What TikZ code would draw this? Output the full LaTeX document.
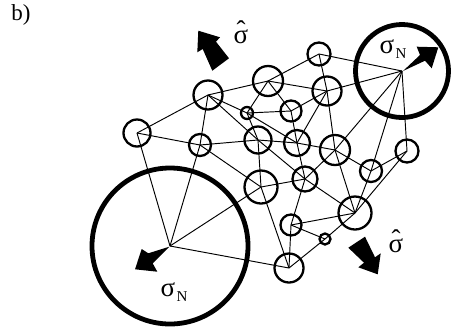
\documentclass[tikz,border=0pt]{standalone}
\usepackage{fontspec}
\setmainfont{Liberation Serif}
\newcommand{\sighat}{\leavevmode\ooalign{σ\cr\hidewidth\raisebox{0.13em}{\char"02C6}\hidewidth\cr}}
\tikzset{
 nd/.style={circle,draw,line width=2.3pt,inner sep=0pt,outer sep=0pt,minimum size=#1},
 bign/.style={circle,draw,line width=4.8pt,inner sep=0pt,outer sep=0pt,minimum size=#1},
 lnk/.style={line width=0.95pt},
 blk/.style={fill=black,draw=none},
 lab/.style={inner sep=0pt,font=\fontsize{23}{23}\selectfont},
 sig/.style={inner sep=0pt,font=\fontsize{27}{27}\selectfont},
 sub/.style={inner sep=0pt,font=\fontsize{15}{15}\selectfont},
}
\begin{document}
\begin{tikzpicture}[x=1pt,y=-1pt]
\useasboundingbox (0,0) rectangle (454,330);
\node[nd=27] (A) at (137,133) {};
\node[nd=29] (B) at (208,95) {};
\node[nd=30] (C) at (268,81) {};
\node[nd=12] (D) at (247,113) {};
\node[nd=21] (E) at (291,111) {};
\node[nd=22] (F) at (200,145) {};
\node[nd=27] (G) at (258,140) {};
\node[nd=26] (H) at (297,143) {};
\node[nd=23] (I) at (319,54) {};
\node[nd=29] (J) at (327,91) {};
\node[bign=93] (K) at (402,71) {};
\node[nd=30] (L) at (335,150) {};
\node[nd=23] (M) at (407,151) {};
\node[nd=22] (N) at (371,171) {};
\node[nd=25] (O) at (305,179) {};
\node[nd=33] (P) at (261,187) {};
\node[nd=33] (Q) at (355,213) {};
\node[nd=21] (R) at (291,225) {};
\node[nd=11] (S) at (325,239) {};
\node[nd=29] (T) at (289,268) {};
\node[bign=156] (U) at (170,246) {};
\foreach \a/\b in {A/B,A/F,A/U,B/C,B/D,B/F,B/G,C/D,C/E,C/I,C/J,D/E,D/G,D/H,E/J,E/H,F/G,F/U,F/P,G/H,G/P,G/O,H/J,H/L,H/O,I/J,I/K,J/K,J/L,K/L,K/N,K/M,L/N,L/O,L/Q,M/N,M/Q,N/Q,O/P,O/Q,O/R,P/T,P/U,Q/R,Q/S,R/S,R/T,S/T,T/U}
  \draw[lnk] (\a.center) -- (\b.center);
\fill[blk] (198.3,30.7) -- (220,37.3) -- (216,41.7) -- (229,58.3) -- (212.3,70.7) -- (202.7,49) -- (197.3,52.3) -- cycle;
\fill[blk] (377.7,274.3) -- (358.3,267.3) -- (364,262.7) -- (348.3,247.7) -- (365,236.7) -- (375,257.3) -- (380.7,253.3) -- cycle;
\fill[blk] (438.3,47.3) -- (431.7,68.3) -- (425,60.7) -- (403,71) -- (420,55) -- (416.7,46.7) -- cycle;
\fill[blk] (135,269.3) -- (141.7,249) -- (148.3,253.3) -- (169.3,246.7) -- (152.7,263.3) -- (157.3,271.7) -- cycle;
\node[lab] (b) at (21,15) {b)};
\node[sig,anchor=base] (s1) at (241,43) {\sighat};
\node[sig,anchor=base] (s2) at (396,252) {\sighat};
\node[sig,anchor=base] (s3) at (387,53) {σ};
\node[sub,anchor=base] (n3) at (401,58) {N};
\node[sig,anchor=base] (s4) at (168,296) {σ};
\node[sub,anchor=base] (n4) at (182,301) {N};
\end{tikzpicture}
\end{document}
